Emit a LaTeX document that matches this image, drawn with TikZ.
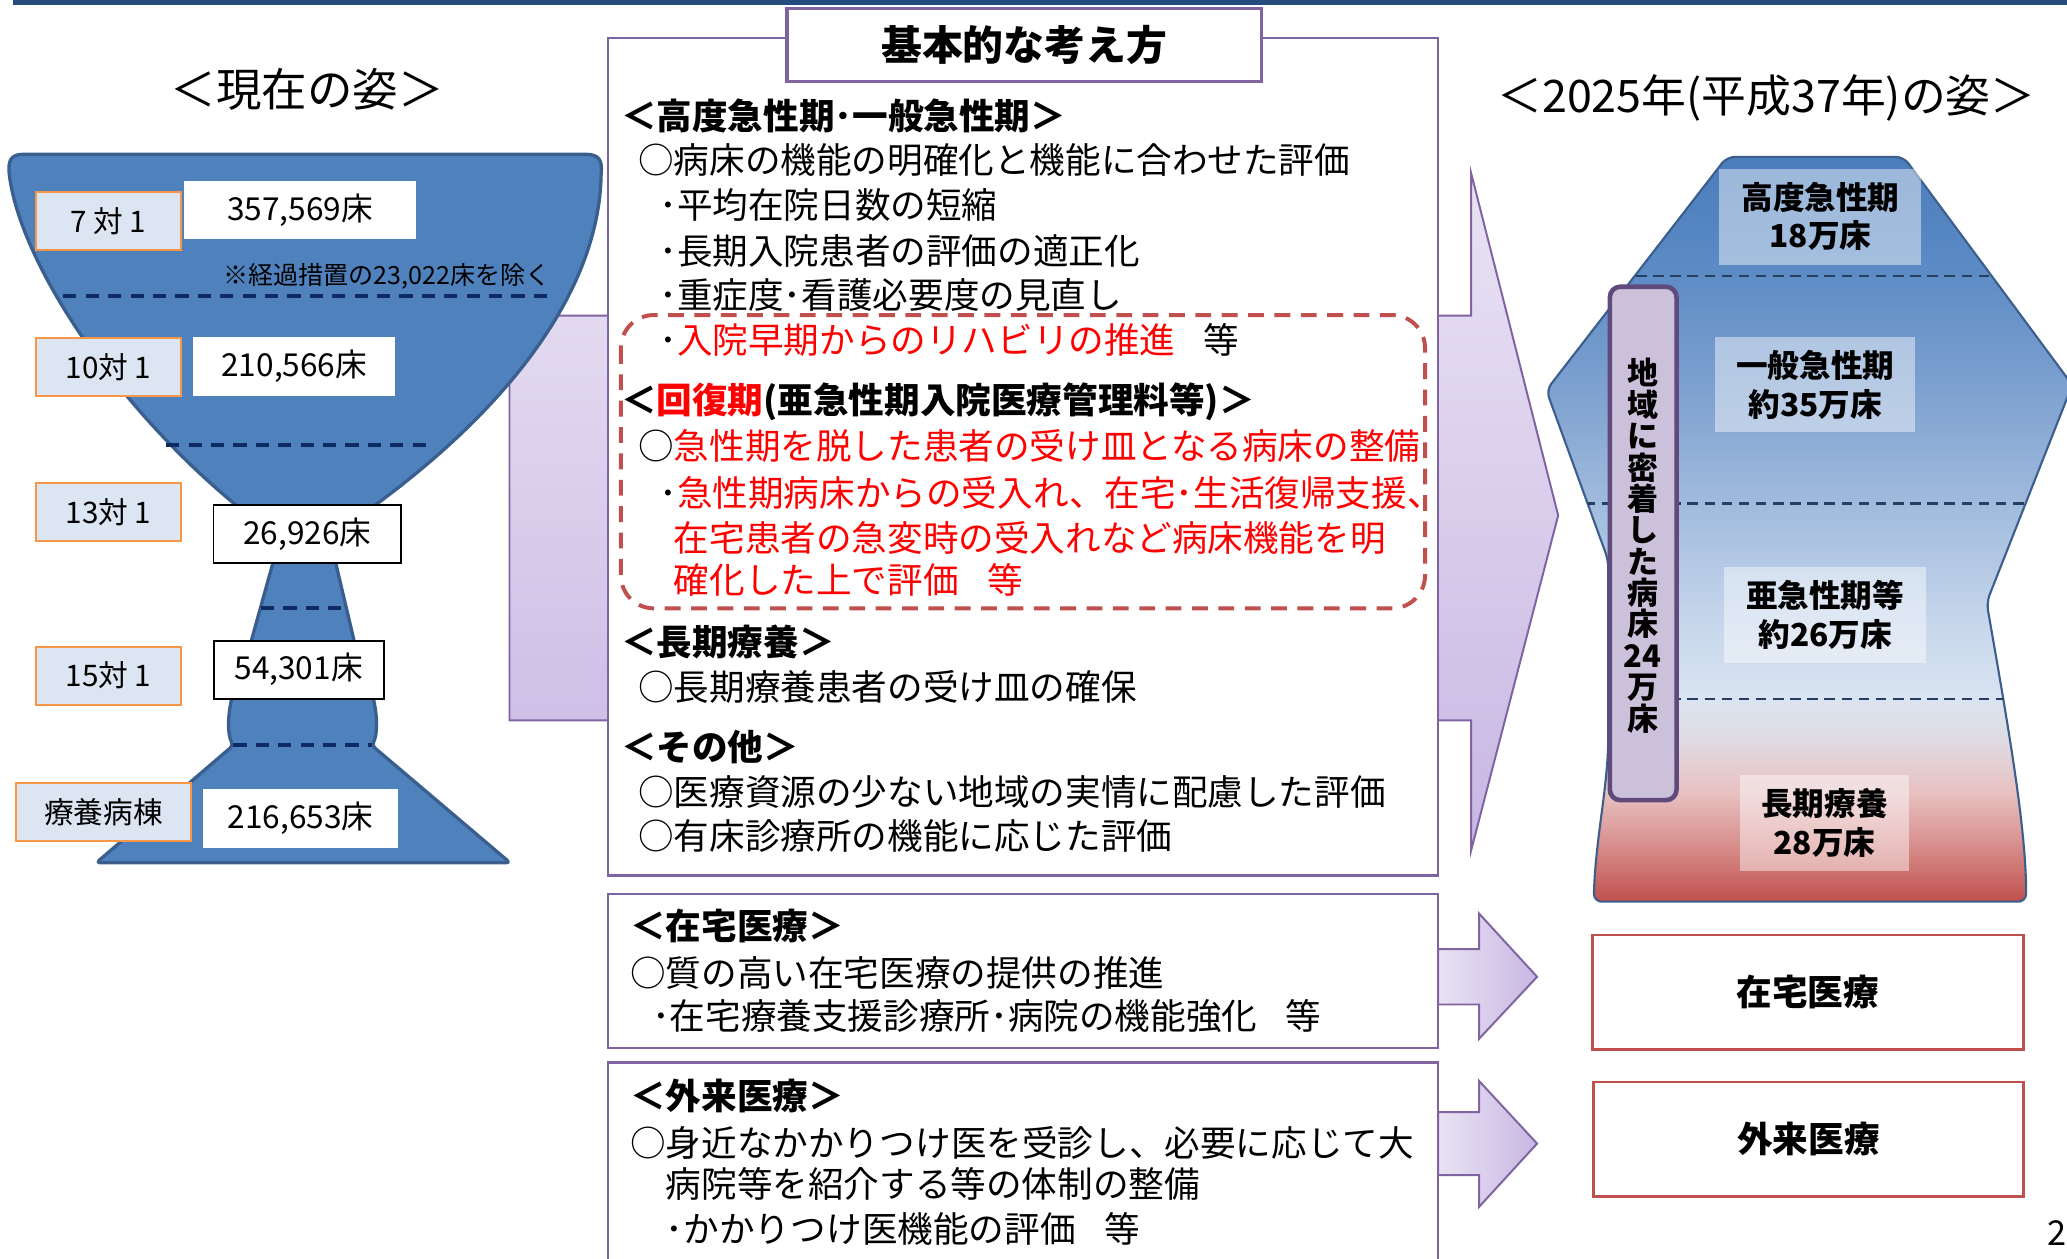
\documentclass[tikz,border=0pt]{standalone}
\usepackage{fontspec}
\setmainfont{Noto Sans CJK JP}
\definecolor{topbar}{HTML}{254B7F}
\definecolor{fblue}{HTML}{4F81BD}
\definecolor{fline}{HTML}{3A5F8E}
\definecolor{fdash}{HTML}{0E2B63}
\definecolor{lblfill}{HTML}{DCE6F2}
\definecolor{lblline}{HTML}{F79646}
\definecolor{purp}{HTML}{8064A2}
\definecolor{arrtop}{HTML}{E9E3F4}
\definecolor{arrbot}{HTML}{C8B7E3}
\definecolor{redtxt}{HTML}{FF0000}
\definecolor{reddash}{HTML}{C0504D}
\definecolor{vbfill}{HTML}{CCC1DA}
\definecolor{vbline}{HTML}{604A7B}
\definecolor{bline}{HTML}{3B5E8C}
\definecolor{bdash}{HTML}{243F60}
\definecolor{rbot}{HTML}{C0504D}
\definecolor{rtwo}{HTML}{D8908E}
\definecolor{rthree}{HTML}{E8C2C2}
\definecolor{rfour}{HTML}{DFDBE3}
\definecolor{bfive}{HTML}{DAE4F1}
\definecolor{bsix}{HTML}{C2D3EA}
\definecolor{bseven}{HTML}{A8C0E0}
\definecolor{beight}{HTML}{7FA2D0}
\definecolor{bnine}{HTML}{5B8AC4}
\definecolor{btop}{HTML}{4A7DBB}
\pgfdeclareverticalshading{bottle}{100bp}{color(0bp)=(rbot); color(25bp)=(rbot); color(28.9bp)=(rtwo); color(32.4bp)=(rthree); color(36bp)=(rfour); color(38.6bp)=(bfive); color(44.8bp)=(bsix); color(50.1bp)=(bseven); color(59bp)=(beight); color(67.8bp)=(bnine); color(75bp)=(btop); color(100bp)=(btop)}
\newcommand\bottlepath{(1310,119) -- (1444,119) -- (1572,292) -- (1507,457) .. controls (1525,560) and (1537,630) .. (1537,684) -- (1209,684) .. controls (1210,640) and (1219,600) .. (1220,560) -- (1220,425) -- (1173,296) -- cycle}
\tikzset{
  funnel/.style={fill=fblue, draw=fline, line width=2.5pt, line join=round},
  fdashed/.style={draw=fdash, line width=3pt, dash pattern=on 10pt off 7pt},
  lbl/.style={draw=lblline, fill=lblfill, line width=1.5pt, inner sep=0pt, font=\fontsize{22.5}{26}\selectfont, minimum width=110.5pt, minimum height=44pt},
  wbox/.style={fill=white, inner sep=0pt, font=\fontsize{24}{28}\selectfont},
  bbox/.style={wbox, draw=black, line width=1.5pt},
  body/.style={anchor=west, inner sep=0pt, font=\fontsize{27}{32}\selectfont, text height=23.8pt, text depth=3.2pt},
  bodyb/.style={body, font=\fontsize{27}{32}\selectfont\bfseries},
  bigarrow/.style={top color=arrtop, bottom color=arrbot, draw=purp, line width=1.5pt, line join=miter},
  smallarrow/.style={left color=arrtop, right color=arrbot, draw=purp, line width=1.5pt},
  purpbox/.style={fill=white, draw=purp, line width=1.8pt},
  redbox/.style={draw=reddash, line width=1.8pt, fill=white},
  rlab/.style={align=center, inner sep=0pt, font=\fontsize{24}{29}\selectfont\bfseries},
  rlabbg/.style={fill=white, opacity=0.45},
  bdashed/.style={draw=bdash, line width=1.8pt, dash pattern=on 8pt off 5pt},
  title/.style={inner sep=0pt, font=\fontsize{34.5}{40}\selectfont}
}
\begin{document}
\begin{tikzpicture}[x=1pt,y=-1pt]
\useasboundingbox (0,0) rectangle (1568,955);
\fill[white] (0,0) rectangle (1568,955);
% top bar
\fill[topbar] (10,0) rectangle (1568,4);

% titles
\node[title] (tleft) at (233,68) {＜現在の姿＞};
\node[title, font=\fontsize{34}{40}\selectfont] (tright) at (1340,74.5) {＜2025年(平成37年)の姿＞};

% big arrow behind main box
\path[bigarrow] (386.5,239.5) -- (1116,239.5) -- (1116,131.5) -- (1182,391) -- (1116,645) -- (1116,546.5) -- (386.5,546.5) -- cycle;
% small arrows
\path[smallarrow] (1091,720) -- (1122,720) -- (1122,693) -- (1166,741) -- (1122,788) -- (1122,762) -- (1091,762) -- cycle;
\path[smallarrow] (1091,843.7) -- (1122,843.7) -- (1122,820) -- (1166,867.5) -- (1122,915.5) -- (1122,891.5) -- (1091,891.5) -- cycle;

% left funnel
\path[funnel] (18,117) -- (444,117) .. controls (455,117) and (457,122) .. (456,132)
  .. controls (455,210) and (400,300) .. (278,388) -- (185,388)
  .. controls (90,312) and (15,200) .. (7,132) .. controls (6,122) and (8,117) .. (18,117) -- cycle;
\path[funnel] (209,420) -- (253,420) -- (270,492) -- (189,492) -- cycle;
\path[funnel, rounded corners=3pt] (177,525) .. controls (172,545) and (173,558) .. (177,565.4) -- (73,654.5) -- (387,654.5) -- (282,565.4) .. controls (286,558) and (287,545) .. (282,525) -- cycle;
% funnel dashed lines
\draw[fdashed] (48,224.6) -- (420,224.6);
\draw[fdashed] (126,337.6) -- (328.5,337.6);
\draw[fdashed] (198,461.5) -- (264,461.5);
\draw[fdashed] (177,565.4) -- (282,565.4);
\node[anchor=west, inner sep=0pt, font=\fontsize{19}{22}\selectfont] (note) at (169.5,210) {※経過措置の23,022床を除く};

% number boxes
\node[wbox, minimum width=176.1pt, minimum height=44.3pt] (n7) at (227.5,159.5) {357,569床};
\node[wbox, minimum width=153.6pt, minimum height=45.1pt] (n10) at (223.2,278) {210,566床};
\node[bbox, minimum width=142.5pt, minimum height=44.5pt] (n13) at (233.2,405.2) {26,926床};
\node[bbox, minimum width=129pt, minimum height=44pt] (n15) at (226.5,508) {54,301床};
\node[wbox, minimum width=148pt, minimum height=44.4pt] (nry) at (228,620.8) {216,653床};
% labels
\node[lbl] (l7) at (82.25,168) {7 対 1};
\node[lbl] (l10) at (82.25,278.2) {10対 1};
\node[lbl] (l13) at (82.25,388.3) {13対 1};
\node[lbl] (l15) at (82.25,512.5) {15対 1};
\node[lbl, minimum width=133pt] (lry) at (78.5,616) {療養病棟};

% main box
\path[purpbox] (461,29) rectangle (1091,664);
\node[draw=purp, line width=2.5pt, fill=white, minimum width=360pt, minimum height=55.7pt, inner sep=0pt, font=\fontsize{31}{36}\selectfont\bfseries] (kihon) at (777,34.2) {基本的な考え方};
% red dashed frame
\draw[reddash, line width=3pt, dash pattern=on 12pt off 8pt, rounded corners=25pt] (471,239) rectangle (1081,461.5);

\node[bodyb] (h1) at (471,88) {＜高度急性期･一般急性期＞};
\node[body] (a1) at (484,121) {○病床の機能の明確化と機能に合わせた評価};
\node[body] (a2) at (500,155.5) {･平均在院日数の短縮};
\node[body] (a3) at (500,190) {･長期入院患者の評価の適正化};
\node[body] (a4) at (500,224) {･重症度･看護必要度の見直し};
\node[body] (a5) at (500,258) {･\textcolor{redtxt}{入院早期からのリハビリの推進}\hspace{0.8em}等};
\node[bodyb] (h2) at (471,303) {＜\textcolor{redtxt}{回復期}(亜急性期入院医療管理料等)＞};
\node[body] (b1) at (484,338) {○\textcolor{redtxt}{急性期を脱した患者の受け皿となる病床の整備}};
\node[body] (b2) at (500,374) {･\textcolor{redtxt}{急性期病床からの受入れ、在宅･生活復帰支援、}};
\node[body, text=redtxt] (b3) at (511,408) {在宅患者の急変時の受入れなど病床機能を明};
\node[body, text=redtxt] (b4) at (511,440) {確化した上で評価\hspace{0.8em}等};
\node[bodyb] (h3) at (471,487) {＜長期療養＞};
\node[body] (c1) at (484,521) {○長期療養患者の受け皿の確保};
\node[bodyb] (h4) at (471,566.5) {＜その他＞};
\node[body] (d1) at (484,600.6) {○医療資源の少ない地域の実情に配慮した評価};
\node[body] (d2) at (484,634) {○有床診療所の機能に応じた評価};

% bottom center boxes
\path[purpbox] (461,678) rectangle (1091,795);
\path[purpbox] (461,806) rectangle (1091,965);
\node[bodyb] (h5) at (478,702.5) {＜在宅医療＞};
\node[body] (e1) at (478,738) {○質の高い在宅医療の提供の推進};
\node[body] (e2) at (494.5,771) {･在宅療養支援診療所･病院の機能強化\hspace{0.8em}等};
\node[bodyb] (h6) at (478,831) {＜外来医療＞};
\node[body] (f1) at (478,867) {○身近なかかりつけ医を受診し、必要に応じて大};
\node[body] (f2) at (505,898) {病院等を紹介する等の体制の整備};
\node[body] (f3) at (505,932) {･かかりつけ医機能の評価\hspace{0.8em}等};

% right bottle
\begin{scope}
\clip (0,0) rectangle (1568,955);
\path[shade, shading=bottle, draw=bline, line width=1.6pt, rounded corners=6pt] \bottlepath;
\begin{scope}
\clip \bottlepath;
\draw[bdashed] (1150,209.4) -- (1600,209.4);
\draw[bdashed] (1150,381.9) -- (1600,381.9);
\draw[bdashed] (1150,530.4) -- (1600,530.4);
\end{scope}
\end{scope}
\fill[rlabbg] (1304,128) rectangle (1457.6,201);
\fill[rlabbg] (1301,255.4) rectangle (1453,328);
\fill[rlabbg] (1308,430) rectangle (1461,502.8);
\fill[rlabbg] (1320,588) rectangle (1448,660.6);
\node[rlab] (r1) at (1381,164) {高度急性期\\18万床};
\node[rlab] (r2) at (1377,292) {一般急性期\\約35万床};
\node[rlab] (r3) at (1384.5,466.4) {亜急性期等\\約26万床};
\node[rlab] (r4) at (1384,624.3) {長期療養\\28万床};
\draw[vbline, fill=vbfill, line width=3.5pt, rounded corners=8pt] (1221.2,217.5) rectangle (1271.8,607);
\node[align=center, inner sep=0pt, font=\fontsize{23.5}{23.8}\selectfont\bfseries] (vtext) at (1246,414) {地\\域\\に\\密\\着\\し\\た\\病\\床\\24\\万\\床};

% right boxes
\node[redbox, minimum width=327pt, minimum height=86.5pt, inner sep=0pt, font=\fontsize{27}{32}\selectfont\bfseries] (zaitaku) at (1371.5,752.75) {在宅医療};
\node[redbox, minimum width=326.3pt, minimum height=86.8pt, inner sep=0pt, font=\fontsize{27}{32}\selectfont\bfseries] (gairai) at (1371.9,864.1) {外来医療};

\node[anchor=base east, inner sep=0pt, font=\fontsize{26}{30}\selectfont] (pg) at (1568,945) {2};
\end{tikzpicture}
\end{document}
